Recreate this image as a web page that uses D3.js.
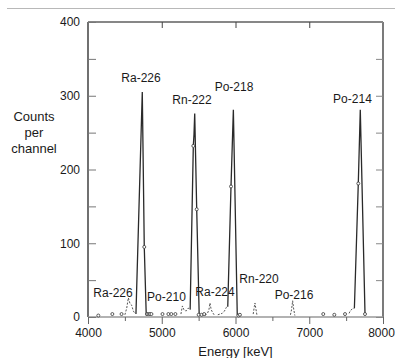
<!DOCTYPE html>
<html>
<head>
<meta charset="utf-8">
<script src="https://cdn.jsdelivr.net/npm/d3@7"></script>
<style>
  html, body { margin: 0; padding: 0; background: #fff; }
  svg { display: block; font-family: "Liberation Sans", Arial, sans-serif; }
</style>
</head>
<body>
<svg id="chart" width="395" height="358"></svg>
<script>
const xTicksMajor = [4000, 5000, 6000, 7000, 8000];
const xTicksMinor = [4500, 5500, 6500, 7500];
const yTicksLabel = [0, 100, 200, 300, 400];
const yTicksAll = [0, 50, 100, 150, 200, 250, 300, 350, 400];

// picos principales (línea continua)
const ra226E = [4650, 4736, 4763, 4790];
const ra226C = [4, 305, 95, 2];
const rn222E = [5385, 5428, 5437, 5447, 5474, 5508];
const rn222C = [10, 232, 247, 276, 146, 2];
const po218E = [5895, 5939, 5971, 6024];
const po218C = [14, 177, 281, 2];
const po214E = [7612, 7665, 7692, 7756];
const po214C = [12, 181, 281, 4];

// picos pequeños (línea discontinua)
const ra226bE = [4500, 4525, 4547, 4570, 4592, 4615, 4637];
const ra226bC = [3, 12, 26, 18, 16, 8, 5];
const po210E = [5260, 5280, 5300, 5330, 5360, 5385];
const po210C = [4, 15, 10, 8, 12, 10];
const ra224E = [5590, 5620, 5640, 5654, 5670, 5690, 5710];
const ra224C = [2, 5, 10, 19, 10, 6, 3];
const preP218E = [5760, 5790, 5820, 5850, 5875, 5895];
const preP218C = [3, 4, 5, 8, 13, 14];
const rn220E = [6240, 6255, 6264, 6275, 6290];
const rn220C = [4, 14, 19, 12, 3];
const po216E = [6745, 6760, 6775, 6790, 6805];
const po216C = [3, 10, 22, 10, 2];
const prePo214E = [7540, 7560, 7585, 7612];
const prePo214C = [5, 9, 11, 12];

// puntos sueltos (círculos)
const dotE = [4140, 4330, 4455, 4763, 4800, 4820, 4840, 4860, 5010, 5090, 5130, 5185, 5428, 5474, 5500, 5540, 5575, 5939, 6040, 6060, 7190, 7340, 7485, 7665, 7756];
const dotC = [2, 4, 4, 95, 4, 4, 4, 4, 4, 4, 4, 4, 232, 146, 3, 3, 4, 177, 2, 3, 4, 3, 4, 181, 4];

// etiquetas de los picos (posición en unidades de datos)
const labelText = ["Ra-226", "Rn-222", "Po-218", "Po-214", "Ra-226", "Po-210", "Ra-224", "Rn-220", "Po-216"];
const labelE = [4719, 5410, 5980, 7586, 4339, 5064, 5722, 6319, 6793];
const labelC = [318, 289, 306, 290, 27, 22, 28, 46, 24];

(function() {
  const svg = d3.select('#chart');
  const W = 395, H = 358;
  const left = 88, right = 383, top = 22, bottom = 317;

  const x = d3.scaleLinear().domain([4000, 8000]).range([left, right]);
  const y = d3.scaleLinear().domain([0, 400]).range([bottom, top]);

  // línea gris de separación arriba
  svg.append('line')
    .attr('x1', 7).attr('x2', W).attr('y1', 8.5).attr('y2', 8.5)
    .attr('stroke', '#b8b8b8').attr('stroke-width', 1);

  // marco
  const frame = svg.append('g');
  frame.append('line').attr('x1', left).attr('x2', left).attr('y1', top).attr('y2', bottom)
    .attr('stroke', '#111').attr('stroke-width', 1.2);
  frame.append('line').attr('x1', left).attr('x2', right).attr('y1', top).attr('y2', top)
    .attr('stroke', '#111').attr('stroke-width', 1.2);
  frame.append('line').attr('x1', right).attr('x2', right).attr('y1', top).attr('y2', bottom)
    .attr('stroke', '#222').attr('stroke-width', 1.2);
  frame.append('line').attr('x1', left).attr('x2', right).attr('y1', bottom).attr('y2', bottom)
    .attr('stroke', '#999').attr('stroke-width', 1.4);

  function cleanAxis(g, color) {
    g.select('.domain').remove();
    g.selectAll('.tick line').attr('stroke', color);
    g.selectAll('.tick text').attr('fill', '#1a1a1a');
  }

  // eje y izquierdo: marcas hacia dentro
  svg.append('g').attr('transform', `translate(${left},0)`)
    .call(d3.axisLeft(y).tickValues(yTicksAll).tickSize(-8).tickFormat(''))
    .call(g => cleanAxis(g, '#777'));
  svg.append('g').attr('transform', `translate(${left},0)`)
    .call(d3.axisLeft(y).tickValues(yTicksLabel).tickSize(0).tickPadding(8))
    .call(g => cleanAxis(g, '#777'))
    .selectAll('text').attr('font-size', 12).attr('font-family', '"Liberation Sans", Arial, sans-serif');

  // eje y derecho
  svg.append('g').attr('transform', `translate(${right},0)`)
    .call(d3.axisRight(y).tickValues(yTicksAll).tickSize(-7).tickFormat(''))
    .call(g => cleanAxis(g, '#888'));

  // eje x superior
  svg.append('g').attr('transform', `translate(0,${top})`)
    .call(d3.axisTop(x).tickValues([5000, 6000, 7000]).tickSize(-6).tickFormat(''))
    .call(g => cleanAxis(g, '#444'));

  // eje x inferior: marcas hacia fuera
  svg.append('g').attr('transform', `translate(0,${bottom})`)
    .call(d3.axisBottom(x).tickValues(xTicksMinor).tickSize(4).tickFormat(''))
    .call(g => cleanAxis(g, '#666'));
  svg.append('g').attr('transform', `translate(0,${bottom})`)
    .call(d3.axisBottom(x).tickValues(xTicksMajor).tickSize(7).tickPadding(4).tickFormat(d3.format('d')))
    .call(g => cleanAxis(g, '#666'))
    .selectAll('text')
    .attr('font-size', 12)
    .attr('font-family', '"Liberation Sans", Arial, sans-serif')
    .attr('dx', d => d === 8000 ? -2 : 0);

  const line = d3.line().x(d => x(d[0])).y(d => y(d[1]));
  const zip = (a, b) => a.map((v, i) => [v, b[i]]);

  const plot = svg.append('g');

  // picos pequeños discontinuos
  [[ra226bE, ra226bC], [po210E, po210C], [ra224E, ra224C], [preP218E, preP218C],
   [rn220E, rn220C], [po216E, po216C], [prePo214E, prePo214C]].forEach(function(s) {
    plot.append('path')
      .attr('d', line(zip(s[0], s[1])))
      .attr('fill', 'none')
      .attr('stroke', '#555')
      .attr('stroke-width', 1)
      .attr('stroke-dasharray', '2,1.5');
  });

  // picos principales
  [[ra226E, ra226C], [rn222E, rn222C], [po218E, po218C], [po214E, po214C]].forEach(function(s) {
    plot.append('path')
      .attr('d', line(zip(s[0], s[1])))
      .attr('fill', 'none')
      .attr('stroke', '#2a2a2a')
      .attr('stroke-width', 1.3)
      .attr('stroke-linejoin', 'miter');
  });

  // círculos
  plot.selectAll('circle')
    .data(zip(dotE, dotC))
    .join('circle')
    .attr('cx', d => x(d[0]))
    .attr('cy', d => y(d[1]))
    .attr('r', 1.5)
    .attr('fill', '#fff')
    .attr('stroke', '#333')
    .attr('stroke-width', 0.8);

  // etiquetas de picos
  svg.append('g')
    .selectAll('text')
    .data(labelText.map((t, i) => ({ t: t, e: labelE[i], c: labelC[i] })))
    .join('text')
    .attr('x', d => x(d.e))
    .attr('y', d => y(d.c))
    .attr('text-anchor', 'middle')
    .attr('font-size', 12)
    .attr('fill', '#1a1a1a')
    .text(d => d.t);

  // título eje y
  const yt = svg.append('text')
    .attr('text-anchor', 'middle')
    .attr('font-size', 13)
    .attr('fill', '#1a1a1a');
  ['Counts', 'per', 'channel'].forEach(function(s, i) {
    yt.append('tspan').attr('x', 34).attr('y', 121 + i * 16).text(s);
  });

  // título eje x
  svg.append('text')
    .attr('x', (left + right) / 2)
    .attr('y', 356)
    .attr('text-anchor', 'middle')
    .attr('font-size', 13)
    .attr('fill', '#1a1a1a')
    .text('Energy [keV]');
})();
</script>
</body>
</html>
